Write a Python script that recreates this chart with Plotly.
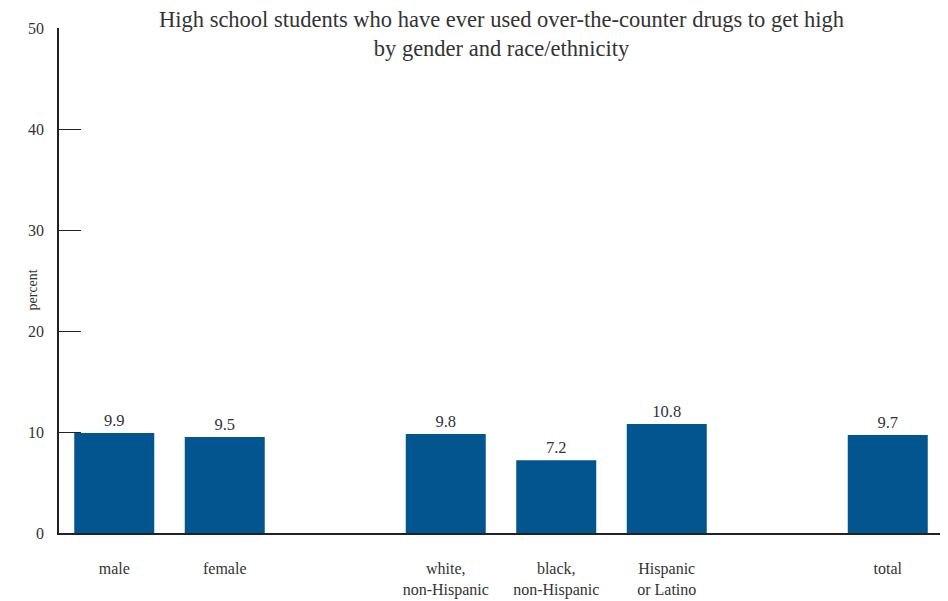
import plotly.graph_objects as go

categories = ["male", "female", "white,<br>non-Hispanic", "black,<br>non-Hispanic", "Hispanic<br>or Latino", "total"]
slots = [0, 1, 3, 4, 5, 7]
values = [9.9, 9.5, 9.8, 7.2, 10.8, 9.7]
value_labels = ["9.9", "9.5", "9.8", "7.2", "10.8", "9.7"]
y_ticks = [0, 10, 20, 30, 40, 50]
title_text = "High school students who have ever used over-the-counter drugs to get high<br>by gender and race/ethnicity"

FONT = "'Liberation Serif', 'DejaVu Serif', serif"
TXT = "#333333"

# page body has an 8px margin, so the figure is sized/offset to land where the reference is
W, H = 940, 593
L, R, T, B = 51, 5, 20, 68

fig = go.Figure(go.Bar(
    x=slots, y=values, width=0.724,
    marker=dict(color="#02558f", line=dict(width=0)),
    text=value_labels, textposition="outside", cliponaxis=False,
    textfont=dict(family=FONT, size=16.5, color=TXT),
))

plot_w = W - L - R
plot_h = H - T - B

fig.update_layout(
    width=W, height=H,
    margin=dict(l=L, r=R, t=T, b=B, autoexpand=False),
    plot_bgcolor="white", paper_bgcolor="white",
    showlegend=False,
    font=dict(family=FONT, color=TXT),
    xaxis=dict(
        range=[-0.5, 7.5], tickvals=slots, ticktext=categories,
        showgrid=False, zeroline=False, automargin=False,
        showline=True, linecolor="#222222", linewidth=1.5,
        ticks="outside", ticklen=20, tickcolor="rgba(0,0,0,0)",
        tickfont=dict(family=FONT, size=16, color=TXT),
    ),
    yaxis=dict(
        range=[0, 50], tickvals=y_ticks,
        showgrid=False, zeroline=False, automargin=False,
        showline=True, linecolor="#222222", linewidth=1.5,
        ticks="inside", ticklen=22, tickcolor="#222222", tickwidth=1.2,
        ticklabelstandoff=10,
        tickfont=dict(family=FONT, size=16, color=TXT),
    ),
    annotations=[
        dict(
            text=title_text, x=0.5, xref="paper", xanchor="center",
            y=1 - 6 / plot_h, yref="paper", yanchor="middle",
            showarrow=False, align="center",
            font=dict(family=FONT, size=22.5, color=TXT),
        ),
        dict(
            text="percent", textangle=-90,
            x=(14 - L) / plot_w, xref="paper", y=(H - B - 282) / plot_h, yref="paper",
            showarrow=False, font=dict(family=FONT, size=14, color=TXT),
        ),
    ],
)

fig.write_html("out.html")
